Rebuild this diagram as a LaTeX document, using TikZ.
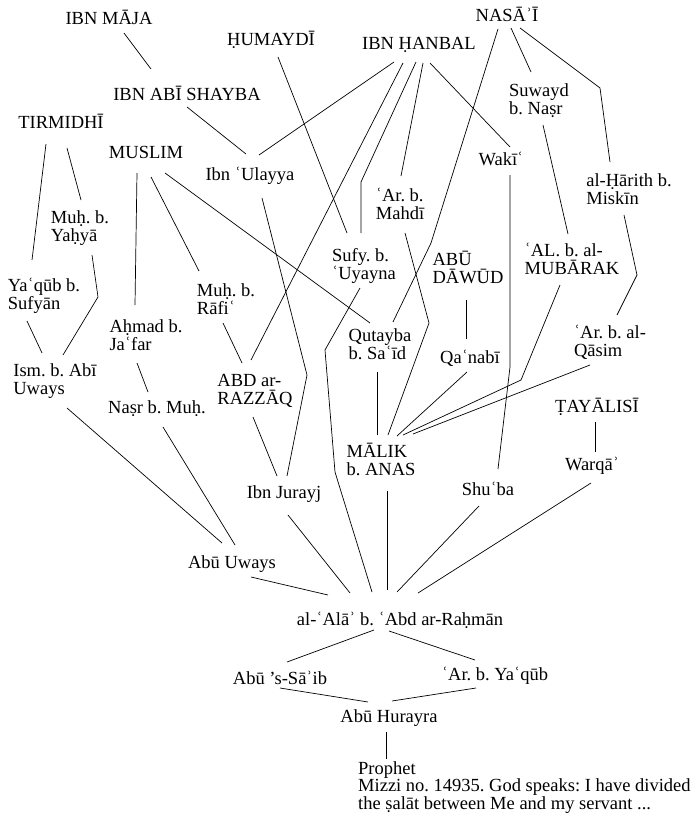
\documentclass[tikz,border=0pt]{standalone}
\usepackage{fontspec}
\setmainfont{Liberation Serif}
\usetikzlibrary{calc}
\frenchspacing
\begin{document}
\begin{tikzpicture}[x=1pt,y=-1pt,
  who/.style={inner sep=0pt, align=left, font=\fontsize{18.5}{18}\selectfont},
  isnad/.style={line width=0.7pt, black}]
\useasboundingbox (0,0) rectangle (694,825);

% collectors
\node[who] (ibnmaja)  at (109,17)  {IBN MĀJA};
\node[who] (humaydi)  at (271,40)  {ḤUMAYDĪ};
\node[who] (shayba)   at (187,93)  {IBN ABĪ SHAYBA};
\node[who] (tirmidhi) at (61,121)  {TIRMIDHĪ};
\node[who] (muslim)   at (146,152) {MUSLIM};
\node[who] (nasai)    at (507,14)  {NASĀʾĪ};
\node[who] (hanbal)   at (419,45)  {IBN ḤANBAL};
\node[who] (abudawud) at (468,267) {ABŪ\\DĀWŪD};
\node[who] (tayalisi) at (597,407) {ṬAYĀLISĪ};
\node[who] (razzaq)   at (255,391) {ABD ar-\\RAZZĀQ};

% transmitters
\node[who] (ulayya)   at (250,176) {Ibn ʿUlayya};
\node[who] (suwayd)   at (539,101) {Suwayd\\b. Naṣr};
\node[who] (waki)     at (501,159) {Wakīʿ};
\node[who] (harith)   at (629,189) {al-Ḥārith b.\\Miskīn};
\node[who] (mahdi)    at (400,204) {ʿAr. b.\\Mahdī};
\node[who] (sufyan)   at (364,266) {Sufy. b.\\ʿUyayna};
\node[who] (mubarak)  at (572,259) {ʿAL. b. al-\\MUBĀRAK};
\node[who] (qanabi)   at (470,358) {Qaʿnabī};
\node[who] (qasim)    at (610,342) {ʿAr. b. al-\\Qāsim};
\node[who] (warqa)    at (592,466) {Warqāʾ};
\node[who] (shuba)    at (488,489) {Shuʿba};
\node[who] (malik)    at (381,459) {MĀLIK\\b. ANAS};
\node[who] (qutayba)  at (380,344) {Qutayba\\b. Saʿīd};
\node[who] (rafi)     at (226,299) {Muḥ. b.\\Rāfiʿ};
\node[who] (yahya)    at (80,228)  {Muḥ. b.\\Yaḥyā};
\node[who] (yaqub)    at (44,296)  {Yaʿqūb b.\\Sufyān};
\node[who] (ahmad)    at (146,335) {Aḥmad b.\\Jaʿfar};
\node[who] (ism)      at (55,381)  {Ism. b. Abī\\Uways};
\node[who] (nasr)     at (157,409) {Naṣr b. Muḥ.};
\node[who] (jurayj)   at (284,494) {Ibn Jurayj};
\node[who] (abuuways) at (232,564) {Abū Uways};
\node[who] (ala)      at (400,620) {al-ʿAlāʾ b. ʿAbd ar-Raḥmān};
\node[who] (abusaib)  at (280,678) {Abū ’s-Sāʾib};
\node[who] (aryaqub)  at (495,676) {ʿAr. b. Yaʿqūb};
\node[who] (hurayra)  at (389,718) {Abū Hurayra};
\node[who, anchor=north west, font=\fontsize{18.5}{16.5}\selectfont] (prophet) at (358,761)
  {Prophet\\Mizzi no. 14935. God speaks: I have divided\\the ṣalāt between Me and my servant ...};

% chains of transmission
\begin{scope}[isnad]
\draw ($(ibnmaja)+(15,16)$) -- ($(shayba)+(-36,-24)$);
\draw ($(shayba)+(0,14)$) -- ($(ulayya)+(-4,-22)$);
\draw ($(hanbal)+(-25,17)$) -- ($(ulayya)+(9,-21)$);
\draw ($(humaydi)+(7,17)$) -- ($(sufyan)+(-17,-33)$);
\draw ($(tirmidhi)+(-15,23)$) -- ($(yaqub)+(-12,-36)$);
\draw ($(tirmidhi)+(6,27)$) -- ($(yahya)+(1,-28)$);
\draw ($(muslim)+(-9,21)$) -- ($(ahmad)+(-11,-30)$);
\draw ($(muslim)+(5,25)$) -- ($(rafi)+(-27,-28)$);
\draw ($(muslim)+(19,21)$) -- ($(qutayba)+(-10,-21)$);
\draw ($(hanbal)+(-16,18)$) -- ($(razzaq)+(-4,-31)$);
\draw ($(hanbal)+(-3,17)$) -- (361,182) -- ($(sufyan)+(-3,-33)$);
\draw ($(hanbal)+(4,18)$) -- ($(mahdi)+(1,-28)$);
\draw ($(hanbal)+(11,18)$) -- ($(waki)+(9,-12)$);
\draw ($(nasai)+(-9,15)$) -- (431,243) -- ($(qutayba)+(13,-22)$);
\draw ($(nasai)+(4,14)$) -- ($(suwayd)+(-8,-29)$);
\draw ($(nasai)+(13,14)$) -- (600,88) -- ($(harith)+(-19,-27)$);
\draw ($(suwayd)+(4,24)$) -- ($(mubarak)+(-4,-25)$);
\draw ($(harith)+(-5,26)$) -- (637,275) -- ($(qasim)+(7,-27)$);
\draw ($(mubarak)+(-12,26)$) -- (521,380) -- ($(malik)+(22,-24)$);
\draw ($(qasim)+(-20,23)$) -- ($(malik)+(32,-25)$);
\draw ($(qanabi)+(-3,14)$) -- ($(malik)+(16,-23)$);
\draw ($(abudawud)+(-2,33)$) -- ($(qanabi)+(-4,-19)$);
\draw ($(qutayba)+(-3,28)$) -- ($(malik)+(-4,-24)$);
\draw ($(mahdi)+(5,29)$) -- (429,323) -- ($(malik)+(7,-24)$);
\draw ($(waki)+(9,16)$) -- (510,367) -- ($(shuba)+(10,-20)$);
\draw ($(tayalisi)+(-2,15)$) -- ($(warqa)+(3,-14)$);
\draw ($(malik)+(6,32)$) -- ($(ala)+(-13,-30)$);
\draw ($(shuba)+(-9,17)$) -- ($(ala)+(-3,-28)$);
\draw ($(warqa)+(-1,17)$) -- ($(ala)+(18,-27)$);
\draw ($(sufyan)+(-4,22)$) -- (325,350) -- (335,472) -- ($(ala)+(-28,-28)$);
\draw ($(jurayj)+(4,21)$) -- ($(ala)+(-50,-27)$);
\draw ($(abuuways)+(19,13)$) -- ($(ala)+(-72,-25)$);
\draw ($(razzaq)+(-2,26)$) -- ($(jurayj)+(-7,-18)$);
\draw ($(ulayya)+(12,22)$) -- (307,375) -- ($(jurayj)+(3,-18)$);
\draw ($(rafi)+(-3,24)$) -- ($(razzaq)+(-13,-28)$);
\draw ($(yahya)+(12,27)$) -- (98,297) -- ($(ism)+(8,-26)$);
\draw ($(yaqub)+(-17,25)$) -- ($(ism)+(-13,-28)$);
\draw ($(ahmad)+(-9,28)$) -- ($(nasr)+(-9,-17)$);
\draw ($(ism)+(12,27)$) -- ($(abuuways)+(-10,-21)$);
\draw ($(nasr)+(6,18)$) -- ($(abuuways)+(3,-19)$);
\draw ($(ala)+(-26,10)$) -- ($(abusaib)+(7,-16)$);
\draw ($(ala)+(-11,11)$) -- ($(aryaqub)+(-20,-16)$);
\draw ($(abusaib)+(0,10)$) -- ($(hurayra)+(-21,-16)$);
\draw ($(aryaqub)+(-19,12)$) -- ($(hurayra)+(3,-17)$);
\draw ($(hurayra)+(-3,14)$) -- ($(prophet.north west)+(28,-2)$);
\end{scope}
\end{tikzpicture}
\end{document}
